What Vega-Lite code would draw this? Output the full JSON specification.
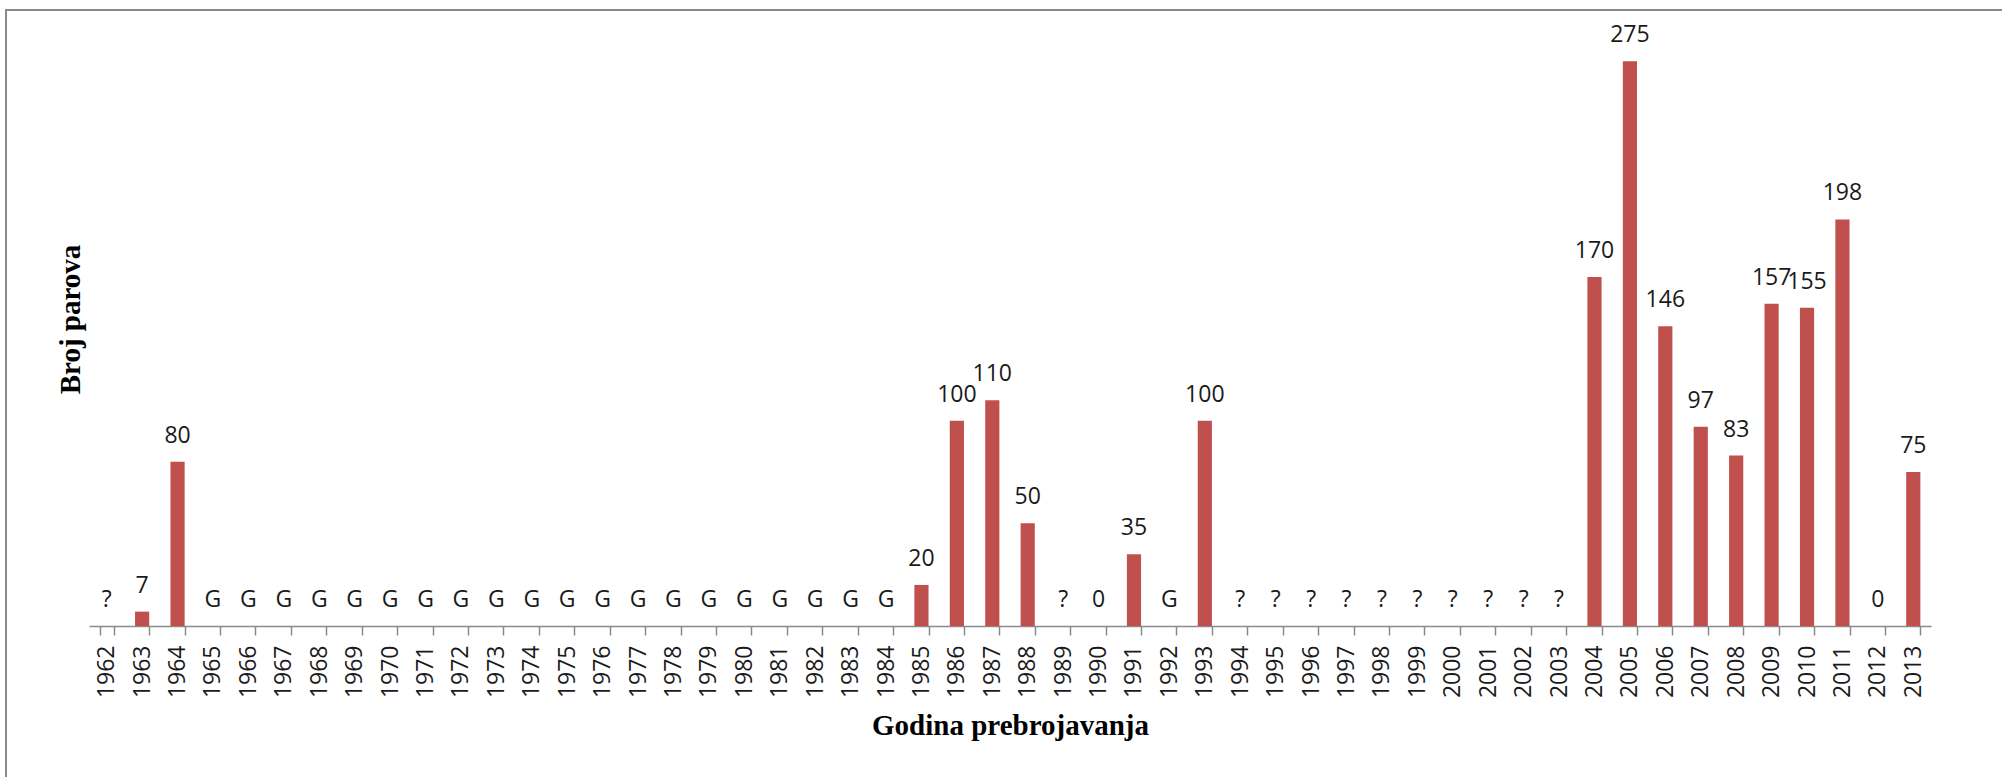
{
  "$schema": "https://vega.github.io/schema/vega-lite/v6.json",
  "autosize": {"type": "none"},
  "padding": {"left": 6, "top": 10, "right": 0, "bottom": 0},
  "width": 2010,
  "height": 790,
  "background": "white",
  "config": {
    "view": {"stroke": "#8a8a8a", "strokeWidth": 2},
    "font": "Open Sans"
  },
  "data": {
    "values": [
      {"year": "1962", "value": 0, "label": "?"},
      {"year": "1963", "value": 7, "label": "7"},
      {"year": "1964", "value": 80, "label": "80"},
      {"year": "1965", "value": 0, "label": "G"},
      {"year": "1966", "value": 0, "label": "G"},
      {"year": "1967", "value": 0, "label": "G"},
      {"year": "1968", "value": 0, "label": "G"},
      {"year": "1969", "value": 0, "label": "G"},
      {"year": "1970", "value": 0, "label": "G"},
      {"year": "1971", "value": 0, "label": "G"},
      {"year": "1972", "value": 0, "label": "G"},
      {"year": "1973", "value": 0, "label": "G"},
      {"year": "1974", "value": 0, "label": "G"},
      {"year": "1975", "value": 0, "label": "G"},
      {"year": "1976", "value": 0, "label": "G"},
      {"year": "1977", "value": 0, "label": "G"},
      {"year": "1978", "value": 0, "label": "G"},
      {"year": "1979", "value": 0, "label": "G"},
      {"year": "1980", "value": 0, "label": "G"},
      {"year": "1981", "value": 0, "label": "G"},
      {"year": "1982", "value": 0, "label": "G"},
      {"year": "1983", "value": 0, "label": "G"},
      {"year": "1984", "value": 0, "label": "G"},
      {"year": "1985", "value": 20, "label": "20"},
      {"year": "1986", "value": 100, "label": "100"},
      {"year": "1987", "value": 110, "label": "110"},
      {"year": "1988", "value": 50, "label": "50"},
      {"year": "1989", "value": 0, "label": "?"},
      {"year": "1990", "value": 0, "label": "0"},
      {"year": "1991", "value": 35, "label": "35"},
      {"year": "1992", "value": 0, "label": "G"},
      {"year": "1993", "value": 100, "label": "100"},
      {"year": "1994", "value": 0, "label": "?"},
      {"year": "1995", "value": 0, "label": "?"},
      {"year": "1996", "value": 0, "label": "?"},
      {"year": "1997", "value": 0, "label": "?"},
      {"year": "1998", "value": 0, "label": "?"},
      {"year": "1999", "value": 0, "label": "?"},
      {"year": "2000", "value": 0, "label": "?"},
      {"year": "2001", "value": 0, "label": "?"},
      {"year": "2002", "value": 0, "label": "?"},
      {"year": "2003", "value": 0, "label": "?"},
      {"year": "2004", "value": 170, "label": "170"},
      {"year": "2005", "value": 275, "label": "275"},
      {"year": "2006", "value": 146, "label": "146"},
      {"year": "2007", "value": 97, "label": "97"},
      {"year": "2008", "value": 83, "label": "83"},
      {"year": "2009", "value": 157, "label": "157"},
      {"year": "2010", "value": 155, "label": "155"},
      {"year": "2011", "value": 198, "label": "198"},
      {"year": "2012", "value": 0, "label": "0"},
      {"year": "2013", "value": 75, "label": "75"}
    ]
  },
  "encoding": {
    "x": {
      "field": "year",
      "type": "ordinal",
      "sort": null,
      "scale": {"range": [83, 1925], "paddingInner": 0.6, "paddingOuter": 0.3},
      "axis": {
        "title": "Godina prebrojavanja",
        "titleFont": "Liberation Serif",
        "titleFontWeight": "bold",
        "titleFontSize": 29,
        "titleColor": "#000000",
        "titleX": 1004,
        "titleY": 108,
        "titleAnchor": null,
        "titleAlign": "center",
        "titleBaseline": "alphabetic",
        "offset": -174,
        "labelAngle": -90,
        "labelAlign": "right",
        "labelBaseline": "middle",
        "labelFont": "Open Sans",
        "labelFontSize": 23,
        "labelColor": "#1a1a1a",
        "labelPadding": 10,
        "labelOverlap": false,
        "tickBand": "extent",
        "tickSize": 9,
        "tickColor": "#8a8a8a",
        "tickWidth": 1.5,
        "domainColor": "#8a8a8a",
        "domainWidth": 1.5,
        "grid": false
      }
    },
    "y": {
      "field": "value",
      "type": "quantitative",
      "scale": {"domain": [0, 300], "range": [616, 0], "nice": false},
      "axis": {
        "title": "Broj parova",
        "titleFont": "Liberation Serif",
        "titleFontWeight": "bold",
        "titleFontSize": 29,
        "titleColor": "#000000",
        "titleAngle": -90,
        "titleX": 73,
        "titleY": 309,
        "titleAlign": "center",
        "titleBaseline": "alphabetic",
        "labels": false,
        "ticks": false,
        "domain": false,
        "grid": false
      }
    }
  },
  "layer": [
    {"mark": {"type": "bar", "color": "#c0504d"}},
    {
      "mark": {"type": "text", "baseline": "alphabetic", "dy": -19, "fontSize": 23, "font": "Open Sans", "color": "#1a1a1a"},
      "encoding": {"text": {"field": "label"}}
    }
  ]
}
